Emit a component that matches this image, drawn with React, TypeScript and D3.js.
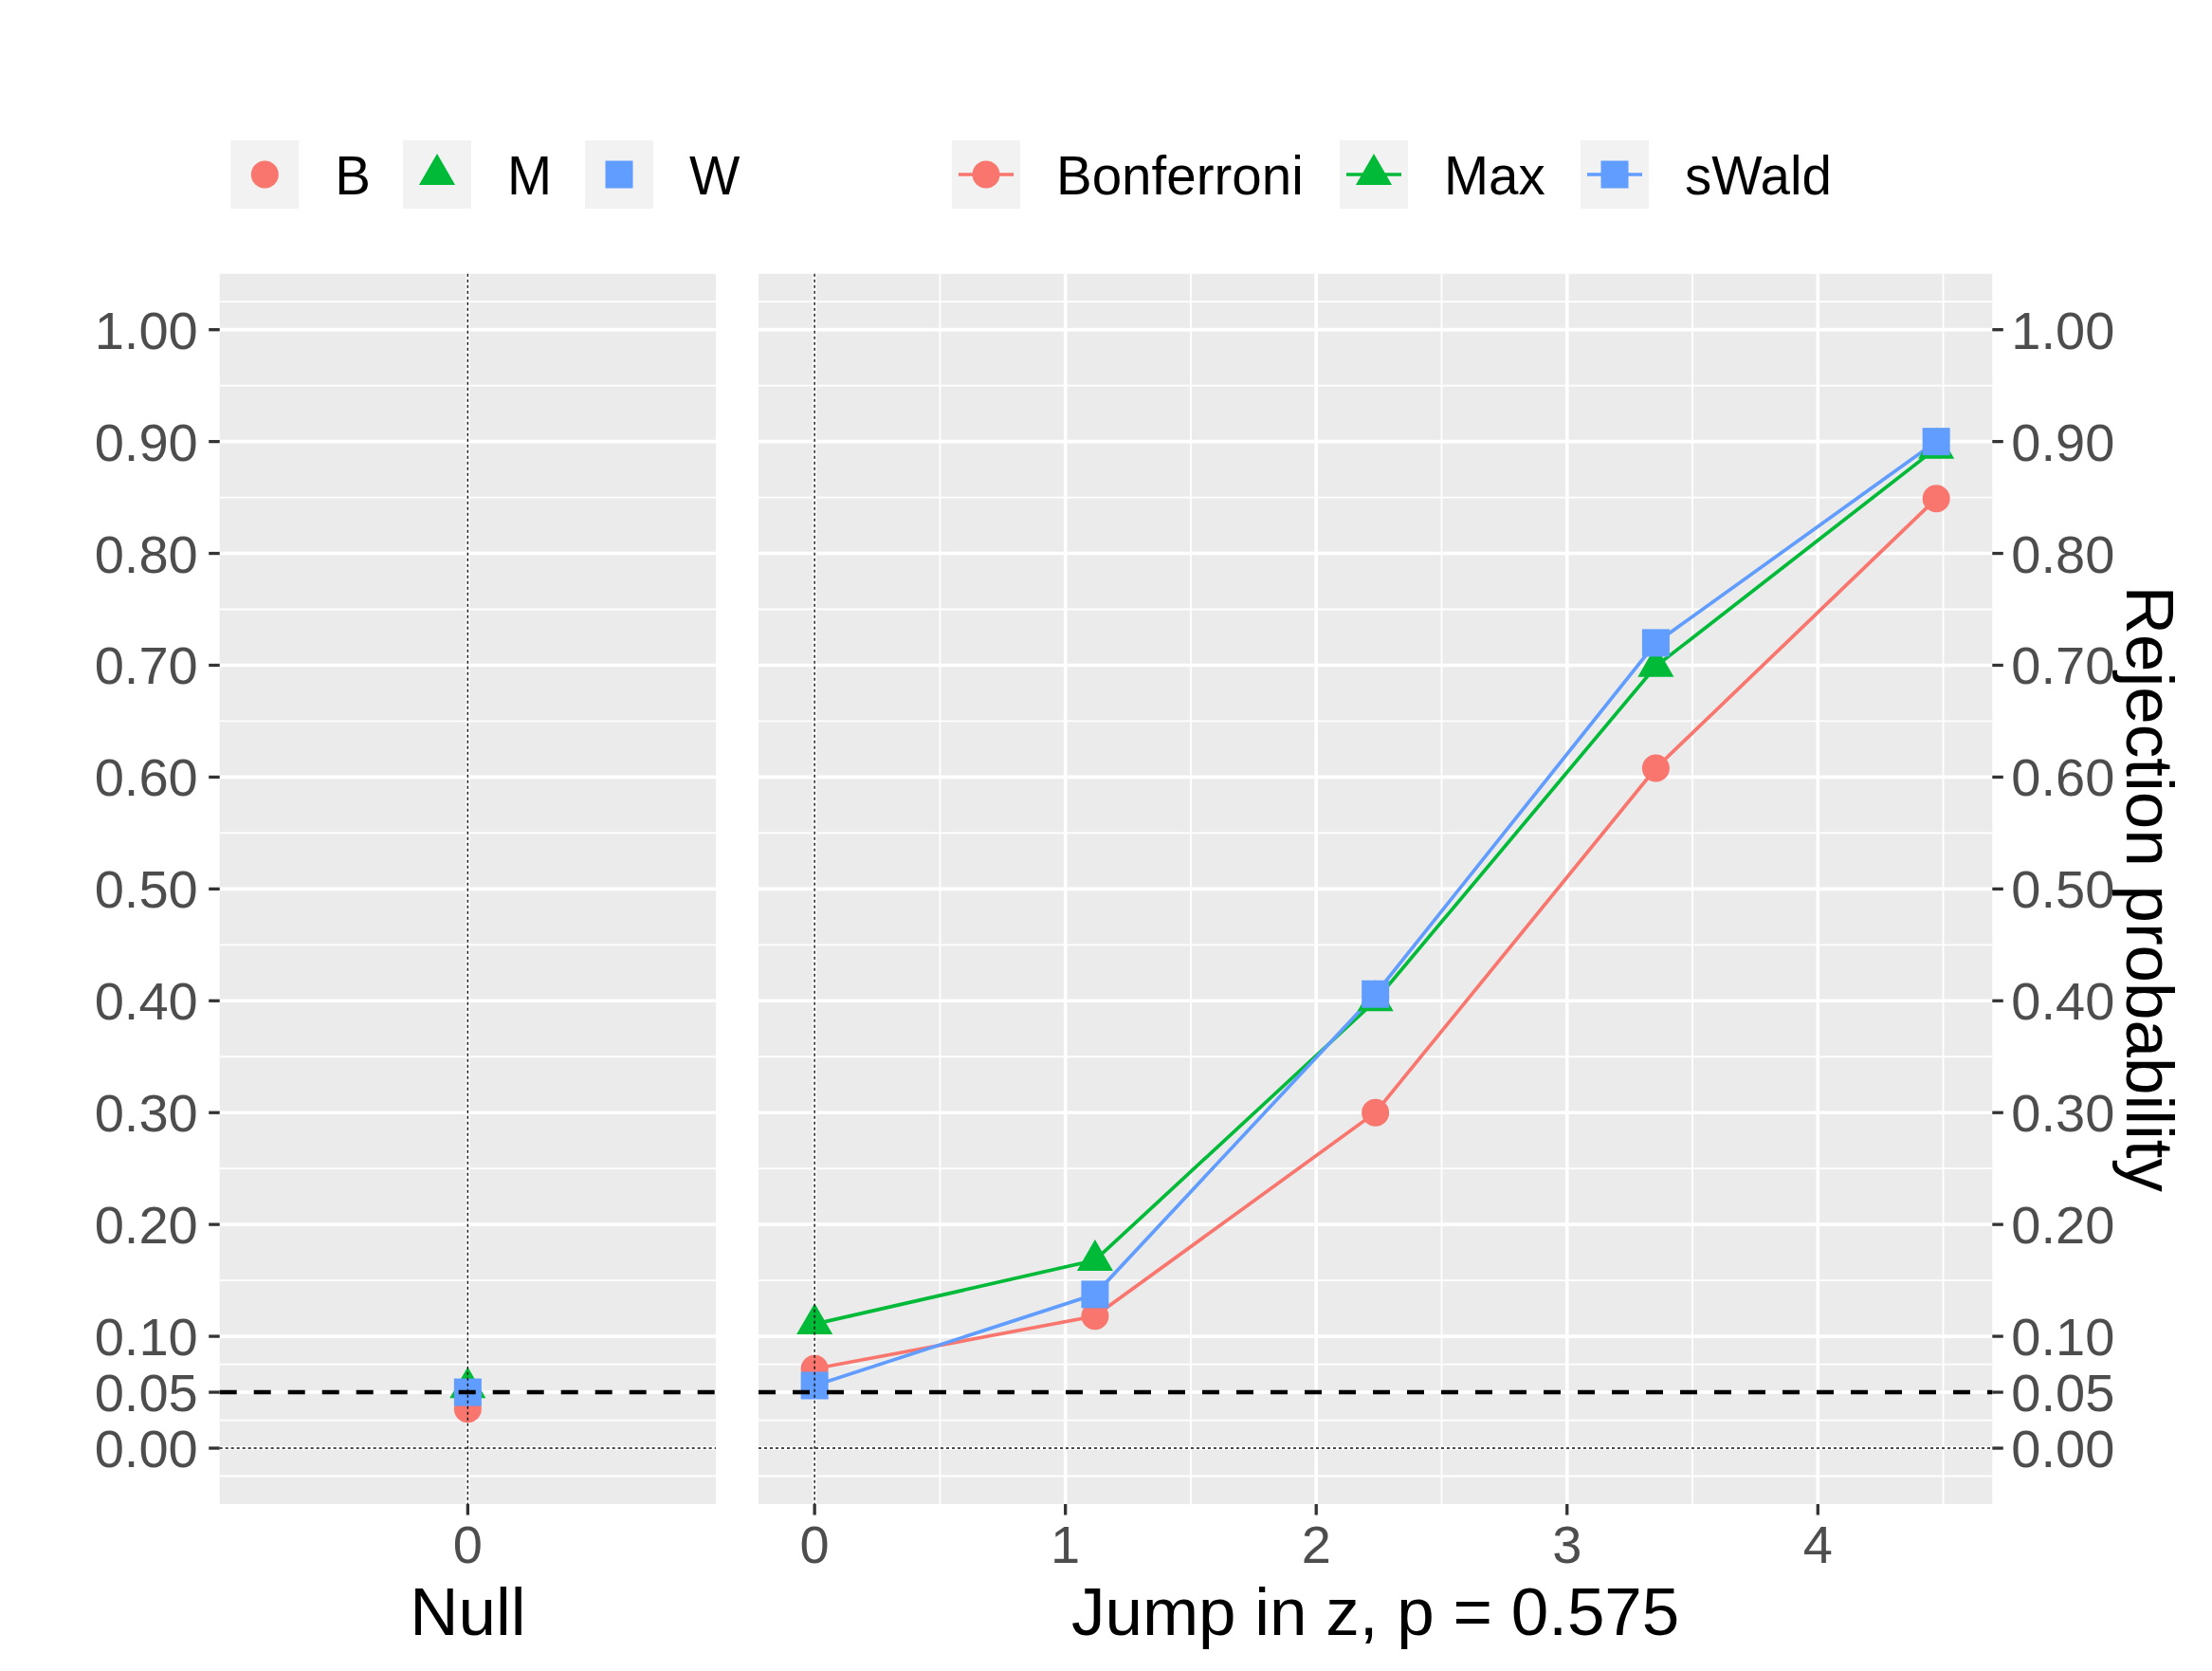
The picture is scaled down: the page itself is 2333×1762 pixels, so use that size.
import { useEffect, useRef } from "react";
import * as d3 from "d3";

// Methods, in legend order
const METHOD_KEYS = ["B", "M", "W"];
const METHOD_NAMES = ["Bonferroni", "Max", "sWald"];

// Null panel: rejection probability at x = 0 for B, M, W
const NULL_X = [0];
const NULL_B = [0.035];
const NULL_M = [0.054];
const NULL_W = [0.05];

// Jump panel
const JUMP_Z = [0, 1.118, 2.236, 3.354, 4.472];
const JUMP_B = [0.071, 0.118, 0.3, 0.608, 0.849];
const JUMP_M = [0.111, 0.168, 0.4, 0.699, 0.894];
const JUMP_W = [0.056, 0.1375, 0.406, 0.72, 0.9];

const Y_TICKS = [0, 0.05, 0.1, 0.2, 0.3, 0.4, 0.5, 0.6, 0.7, 0.8, 0.9, 1.0];
const Y_MINOR = [-0.025, 0.025, 0.075, 0.15, 0.25, 0.35, 0.45, 0.55, 0.65, 0.75, 0.85, 0.95, 1.025];
const X_TICKS = [0, 1, 2, 3, 4];
const X_MINOR = [0.5, 1.5, 2.5, 3.5, 4.5];
const NULL_X_TICKS = [0];

const WIDTH = 2333;
const HEIGHT = 1762;
const COLORS = ["#F8766D", "#00BA38", "#619CFF"];
const SYMBOLS = [d3.symbolCircle, d3.symbolTriangle, d3.symbolSquare];
const SYMBOL_SIZES = [660, 628, 841];
const PANEL_BG = "#EBEBEB";
const KEY_BG = "#F2F2F2";
const TICK_COLOR = "#333333";
const TICK_TEXT = "#4D4D4D";
const FONT = "'Liberation Sans', Arial, Helvetica, sans-serif";
const LINE_WIDTH = 3.7;

const PANEL_TOP = 288.7;
const PANEL_BOTTOM = 1586;
const LEFT_PANEL = [231.7, 755];
const RIGHT_PANEL = [800, 2101.3];

// legend layout (key box left edges)
const LEGEND1_X = [243.3, 425, 617];
const LEGEND2_X = [1004, 1413, 1667];
const KEY_SIZE = 72;
const KEY_TOP = 148;

function renderChart(svgEl: SVGSVGElement | null) {
  if (!svgEl) return;
  const svg = d3.select(svgEl);
  svg.selectAll("*").remove();
  svg.attr("width", WIDTH).attr("height", HEIGHT).attr("viewBox", `0 0 ${WIDTH} ${HEIGHT}`);

  svg.append("rect").attr("width", WIDTH).attr("height", HEIGHT).attr("fill", "white");

  const y = d3.scaleLinear().domain([-0.05, 1.05]).range([PANEL_BOTTOM, PANEL_TOP]);
  const xNull = d3.scaleLinear().domain([-1, 1]).range(LEFT_PANEL);
  const xJump = d3
    .scaleLinear()
    .domain([-0.05 * 4.472, 4.472 * 1.05])
    .range(RIGHT_PANEL);

  const symbol = (i: number) => d3.symbol().type(SYMBOLS[i]).size(SYMBOL_SIZES[i])()!;
  const fmt = d3.format(".2f");

  const drawPanel = (
    x: d3.ScaleLinear<number, number>,
    xTicks: number[],
    xMinor: number[],
    series: number[][],
    xs: number[],
    withLines: boolean
  ) => {
    const [x0, x1] = x.range();
    const g = svg.append("g");
    g.append("rect")
      .attr("x", x0)
      .attr("y", PANEL_TOP)
      .attr("width", x1 - x0)
      .attr("height", PANEL_BOTTOM - PANEL_TOP)
      .attr("fill", PANEL_BG);

    // minor grid
    Y_MINOR.forEach((v) => {
      g.append("line")
        .attr("x1", x0).attr("x2", x1)
        .attr("y1", y(v)).attr("y2", y(v))
        .attr("stroke", "white").attr("stroke-width", 1.8);
    });
    xMinor.forEach((v) => {
      g.append("line")
        .attr("x1", x(v)).attr("x2", x(v))
        .attr("y1", PANEL_TOP).attr("y2", PANEL_BOTTOM)
        .attr("stroke", "white").attr("stroke-width", 1.8);
    });
    // major grid
    Y_TICKS.forEach((v) => {
      g.append("line")
        .attr("x1", x0).attr("x2", x1)
        .attr("y1", y(v)).attr("y2", y(v))
        .attr("stroke", "white").attr("stroke-width", 3.6);
    });
    xTicks.forEach((v) => {
      g.append("line")
        .attr("x1", x(v)).attr("x2", x(v))
        .attr("y1", PANEL_TOP).attr("y2", PANEL_BOTTOM)
        .attr("stroke", "white").attr("stroke-width", 3.6);
    });

    // series lines
    if (withLines) {
      series.forEach((vals, i) => {
        const line = d3
          .line<number>()
          .x((_, j) => x(xs[j]))
          .y((d) => y(d));
        g.append("path")
          .attr("d", line(vals)!)
          .attr("fill", "none")
          .attr("stroke", COLORS[i])
          .attr("stroke-width", LINE_WIDTH);
      });
    }

    // points
    series.forEach((vals, i) => {
      vals.forEach((v, j) => {
        g.append("path")
          .attr("d", symbol(i))
          .attr("transform", `translate(${x(xs[j])},${y(v)})`)
          .attr("fill", COLORS[i]);
      });
    });

    // reference lines
    g.append("line")
      .attr("x1", x(0)).attr("x2", x(0))
      .attr("y1", PANEL_TOP).attr("y2", PANEL_BOTTOM)
      .attr("stroke", "#111").attr("stroke-width", 1.4)
      .attr("stroke-dasharray", "3,3");
    g.append("line")
      .attr("x1", x0).attr("x2", x1)
      .attr("y1", y(0)).attr("y2", y(0))
      .attr("stroke", "#111").attr("stroke-width", 1.4)
      .attr("stroke-dasharray", "3,3");
    g.append("line")
      .attr("x1", x0).attr("x2", x1)
      .attr("y1", y(0.05)).attr("y2", y(0.05))
      .attr("stroke", "black").attr("stroke-width", 4.5)
      .attr("stroke-dasharray", "18,18");

    // x ticks
    xTicks.forEach((v) => {
      g.append("line")
        .attr("x1", x(v)).attr("x2", x(v))
        .attr("y1", PANEL_BOTTOM).attr("y2", PANEL_BOTTOM + 11.5)
        .attr("stroke", TICK_COLOR).attr("stroke-width", 3.3);
      g.append("text")
        .attr("x", x(v))
        .attr("y", 1648)
        .attr("text-anchor", "middle")
        .attr("fill", TICK_TEXT)
        .attr("font-size", 56)
        .style("font-family", FONT)
        .text(String(v));
    });
  };

  drawPanel(xNull, NULL_X_TICKS, [], [NULL_B, NULL_M, NULL_W], NULL_X, false);
  drawPanel(xJump, X_TICKS, X_MINOR, [JUMP_B, JUMP_M, JUMP_W], JUMP_Z, true);

  // y axes: left on the null panel, right on the jump panel
  Y_TICKS.forEach((v) => {
    svg.append("line")
      .attr("x1", LEFT_PANEL[0] - 11.5).attr("x2", LEFT_PANEL[0])
      .attr("y1", y(v)).attr("y2", y(v))
      .attr("stroke", TICK_COLOR).attr("stroke-width", 3.3);
    svg.append("text")
      .attr("x", LEFT_PANEL[0] - 23)
      .attr("y", y(v) + 20)
      .attr("text-anchor", "end")
      .attr("fill", TICK_TEXT)
      .attr("font-size", 56)
      .style("font-family", FONT)
      .text(fmt(v));
    svg.append("line")
      .attr("x1", RIGHT_PANEL[1]).attr("x2", RIGHT_PANEL[1] + 11.5)
      .attr("y1", y(v)).attr("y2", y(v))
      .attr("stroke", TICK_COLOR).attr("stroke-width", 3.3);
    svg.append("text")
      .attr("x", RIGHT_PANEL[1] + 20)
      .attr("y", y(v) + 20)
      .attr("text-anchor", "start")
      .attr("fill", TICK_TEXT)
      .attr("font-size", 56)
      .style("font-family", FONT)
      .text(fmt(v));
  });

  // axis titles
  const title = (tx: number, ty: number, label: string, rotate = 0) =>
    svg.append("text")
      .attr("transform", `translate(${tx},${ty}) rotate(${rotate})`)
      .attr("text-anchor", "middle")
      .attr("fill", "black")
      .attr("font-size", 71)
      .style("font-family", FONT)
      .text(label);
  title(xNull(0), 1724, "Null");
  title((RIGHT_PANEL[0] + RIGHT_PANEL[1]) / 2, 1724, "Jump in z, p = 0.575");
  title(2243, (PANEL_TOP + PANEL_BOTTOM) / 2, "Rejection probability", 90);

  // legends
  const keyCy = KEY_TOP + KEY_SIZE / 2;
  const drawLegend = (xs: number[], labels: string[], withLine: boolean) => {
    labels.forEach((label, i) => {
      const kx = xs[i];
      svg.append("rect")
        .attr("x", kx).attr("y", KEY_TOP)
        .attr("width", KEY_SIZE).attr("height", KEY_SIZE)
        .attr("fill", KEY_BG);
      if (withLine) {
        svg.append("line")
          .attr("x1", kx + 7).attr("x2", kx + KEY_SIZE - 7)
          .attr("y1", keyCy).attr("y2", keyCy)
          .attr("stroke", COLORS[i]).attr("stroke-width", LINE_WIDTH);
      }
      svg.append("path")
        .attr("d", symbol(i))
        .attr("transform", `translate(${kx + KEY_SIZE / 2},${keyCy})`)
        .attr("fill", COLORS[i]);
      svg.append("text")
        .attr("x", kx + KEY_SIZE + 38)
        .attr("y", keyCy + 20.5)
        .attr("fill", "black")
        .attr("font-size", 56.5)
        .style("font-family", FONT)
        .text(label);
    });
  };
  drawLegend(LEGEND1_X, METHOD_KEYS, false);
  drawLegend(LEGEND2_X, METHOD_NAMES, true);
}

export default function App() {
  const svgRef = useRef<SVGSVGElement>(null);

  useEffect(() => {
    document.body.style.margin = "0";
    renderChart(svgRef.current);
  }, []);

  return <svg ref={svgRef} style={{ display: "block" }} />;
}
